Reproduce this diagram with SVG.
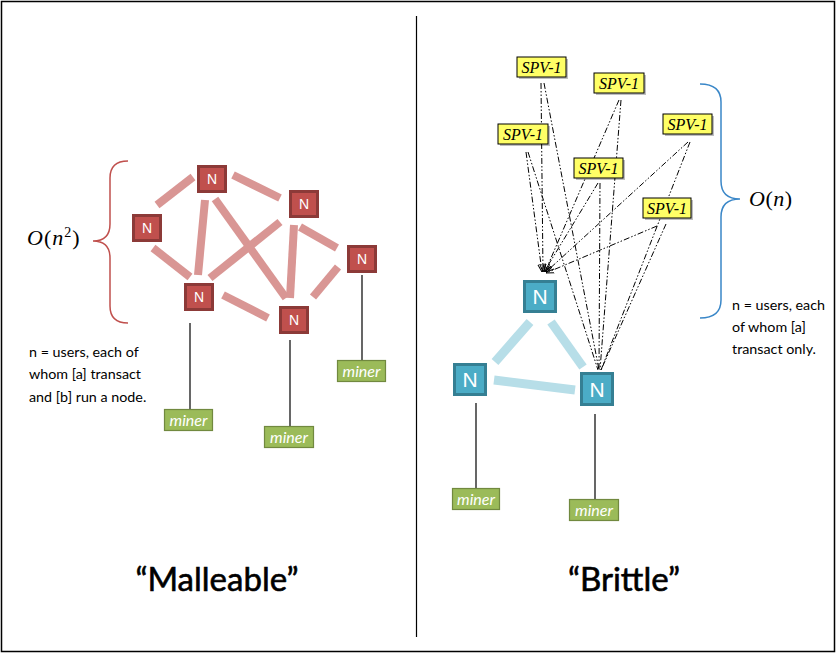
<svg xmlns="http://www.w3.org/2000/svg" width="837" height="654" viewBox="0 0 837 654">
<style>
.rn rect{fill:#c0504d;stroke:#8c3a38;stroke-width:3}
.rn text{fill:#fff;font-family:"Liberation Sans",Arial,sans-serif;font-size:14px;text-anchor:middle}
.tn rect{fill:#4bacc6;stroke:#357f93;stroke-width:3}
.tn text{fill:#fff;font-family:"Liberation Sans",Arial,sans-serif;font-size:21px;text-anchor:middle}
.redge{stroke:#d99694;stroke-width:8;fill:none}
.tedge{stroke:#b7dee8;stroke-width:9;fill:none}
.miner rect{fill:#9bbb59;stroke:#71893f;stroke-width:1.2}
.miner text{fill:#fff;font-family:Lato,"Open Sans",sans-serif;font-style:italic;font-size:16px;text-anchor:middle}
.mline{stroke:#000;stroke-width:1.2}
.spv rect.box{fill:#ffff66;stroke:#000;stroke-width:1}
.spv rect.sh{fill:#000;opacity:0.25}
.spv text{fill:#000;font-family:"Liberation Serif","Times New Roman",serif;font-style:italic;font-size:16px;text-anchor:middle}
.dd{stroke:#000;stroke-width:1;fill:none;stroke-dasharray:6 2 1.5 2 1.5 2}
.desc{font-family:Lato,"Open Sans",sans-serif;font-size:14.3px;fill:#000}
.title{font-family:Lato,"Open Sans",sans-serif;font-size:33px;fill:#000;stroke:#000;stroke-width:0.6;text-anchor:middle}
.math{font-family:"Liberation Serif","Times New Roman",serif;font-size:22px;fill:#000}
</style>
<defs>
<marker id="arr" viewBox="0 0 10 10" refX="10" refY="5" markerWidth="8" markerHeight="8" orient="auto" markerUnits="userSpaceOnUse">
<path d="M0,1 L10,5 L0,9" fill="none" stroke="#000" stroke-width="1.2"/>
</marker>
</defs>
<rect x="1.5" y="1.5" width="833" height="650" fill="#fff" stroke="#000" stroke-width="1.5"/>
<line x1="416.5" y1="16" x2="416.5" y2="637" stroke="#000" stroke-width="1.2"/>

<g id="connectors">
<line class="redge" x1="157" y1="205" x2="193" y2="177"/>
<line class="redge" x1="233" y1="175" x2="280" y2="198"/>
<line class="redge" x1="153" y1="248" x2="190" y2="277"/>
<line class="redge" x1="205" y1="200" x2="198" y2="275"/>
<line class="redge" x1="215" y1="199" x2="286" y2="298"/>
<line class="redge" x1="280" y1="222" x2="210" y2="278"/>
<line class="redge" x1="294" y1="225" x2="290" y2="298"/>
<line class="redge" x1="300" y1="227" x2="337" y2="248"/>
<line class="redge" x1="338" y1="267" x2="313" y2="297"/>
<line class="redge" x1="223" y1="295" x2="268" y2="318"/>
<line class="mline" x1="190" y1="323" x2="190" y2="409"/>
<line class="mline" x1="290" y1="340" x2="290" y2="426"/>
<line class="mline" x1="362" y1="275" x2="362" y2="360"/>
<line class="tedge" x1="530" y1="322" x2="495" y2="362"/>
<line class="tedge" x1="551" y1="322" x2="583" y2="367"/>
<line class="tedge" x1="494" y1="380" x2="575" y2="390"/>
<line class="mline" x1="476" y1="403" x2="476" y2="488"/>
<line class="mline" x1="595" y1="414" x2="595" y2="499"/>
<line class="dd" x1="541" y1="83" x2="543" y2="272" marker-end="url(#arr)"/>
<line class="dd" x1="544" y1="83" x2="599" y2="370"/>
<line class="dd" x1="619" y1="100" x2="545" y2="272" marker-end="url(#arr)"/>
<line class="dd" x1="621" y1="100" x2="600" y2="370"/>
<line class="dd" x1="526" y1="152" x2="542" y2="272" marker-end="url(#arr)"/>
<line class="dd" x1="528" y1="152" x2="598" y2="370"/>
<line class="dd" x1="688" y1="142" x2="546" y2="272" marker-end="url(#arr)"/>
<line class="dd" x1="690" y1="142" x2="601" y2="370"/>
<line class="dd" x1="598" y1="183" x2="544" y2="272" marker-end="url(#arr)"/>
<line class="dd" x1="600" y1="183" x2="599" y2="370"/>
<line class="dd" x1="657" y1="226" x2="546" y2="273" marker-end="url(#arr)"/>
<line class="dd" x1="666" y1="224" x2="601" y2="370"/>
</g>

<g id="brace-left"><path d="M128,161 Q110,161 110,178 L110,224 Q110,241 93,241 Q110,241 110,258 L110,306 Q110,323 128,323" fill="none" stroke="#c0504d" stroke-width="1.5"/></g>
<g id="brace-right"><path d="M700,84 Q721,84 721,102 L721,181 Q721,199 740,199 Q721,199 721,217 L721,300 Q721,318 700,318" fill="none" stroke="#3a87c8" stroke-width="1.5"/></g>

<g id="n1" class="rn"><rect x="198.5" y="166.5" width="27" height="25"/><text x="212" y="184">N</text></g>
<g id="n2" class="rn"><rect x="133.5" y="215.5" width="27" height="25"/><text x="147" y="233">N</text></g>
<g id="n3" class="rn"><rect x="290.5" y="191.5" width="27" height="25"/><text x="304" y="209">N</text></g>
<g id="n4" class="rn"><rect x="348.5" y="246.5" width="27" height="25"/><text x="362" y="264">N</text></g>
<g id="n5" class="rn"><rect x="185.5" y="284.5" width="27" height="25"/><text x="199" y="302">N</text></g>
<g id="n6" class="rn"><rect x="280.5" y="307.5" width="27" height="25"/><text x="294" y="325">N</text></g>

<g id="m1" class="miner"><rect x="164.5" y="409.5" width="48" height="21"/><text x="188.5" y="425.5">miner</text></g>
<g id="m2" class="miner"><rect x="264.5" y="426.5" width="49" height="21"/><text x="289" y="442.5">miner</text></g>
<g id="m3" class="miner"><rect x="337.5" y="360.5" width="48" height="21"/><text x="361.5" y="376.5">miner</text></g>
<g id="m4" class="miner"><rect x="452.5" y="488.5" width="47" height="21"/><text x="476" y="504.5">miner</text></g>
<g id="m5" class="miner"><rect x="569.5" y="499.5" width="49" height="21"/><text x="594" y="515.5">miner</text></g>

<g id="t1" class="tn"><rect x="524.5" y="281.5" width="31" height="30"/><text x="540" y="304">N</text></g>
<g id="t2" class="tn"><rect x="454.5" y="364.5" width="31" height="30"/><text x="470" y="387">N</text></g>
<g id="t3" class="tn"><rect x="581.5" y="373.5" width="31" height="31"/><text x="597" y="397">N</text></g>

<g id="s1" class="spv"><rect class="sh" x="519" y="59" width="49" height="20"/><rect class="box" x="517" y="57" width="49" height="20"/><text x="541.5" y="73">SPV-1</text></g>
<g id="s2" class="spv"><rect class="sh" x="596" y="75" width="50" height="20"/><rect class="box" x="594" y="73" width="50" height="20"/><text x="619" y="89">SPV-1</text></g>
<g id="s3" class="spv"><rect class="sh" x="500" y="126" width="50" height="20"/><rect class="box" x="498" y="124" width="50" height="20"/><text x="523" y="140">SPV-1</text></g>
<g id="s4" class="spv"><rect class="sh" x="665" y="116" width="49" height="20"/><rect class="box" x="663" y="114" width="49" height="20"/><text x="687.5" y="130">SPV-1</text></g>
<g id="s5" class="spv"><rect class="sh" x="576" y="160" width="49" height="20"/><rect class="box" x="574" y="158" width="49" height="20"/><text x="598.5" y="174">SPV-1</text></g>
<g id="s6" class="spv"><rect class="sh" x="645" y="200" width="48" height="20"/><rect class="box" x="643" y="198" width="48" height="20"/><text x="667" y="214">SPV-1</text></g>

<g id="math-left"><text class="math" x="27" y="245" letter-spacing="1"><tspan font-style="italic">O</tspan>(<tspan font-style="italic">n</tspan><tspan dy="-8" font-size="14">2</tspan><tspan dy="8">)</tspan></text></g>
<g id="math-right"><text class="math" x="749" y="206" letter-spacing="0.5"><tspan font-style="italic">O</tspan>(<tspan font-style="italic">n</tspan>)</text></g>

<g id="desc-left">
<text class="desc" x="29" y="357">n = users, each of</text>
<text class="desc" x="29" y="378.5">whom  [a] transact</text>
<text class="desc" x="29" y="402">and [b] run a node.</text>
</g>
<g id="desc-right">
<text class="desc" x="732" y="310">n = users, each</text>
<text class="desc" x="732" y="332">of whom [a]</text>
<text class="desc" x="732" y="353.5">transact only.</text>
</g>

<g id="title-left"><text class="title" x="217" y="591">“Malleable”</text></g>
<g id="title-right"><text class="title" x="624" y="591">“Brittle”</text></g>
</svg>
